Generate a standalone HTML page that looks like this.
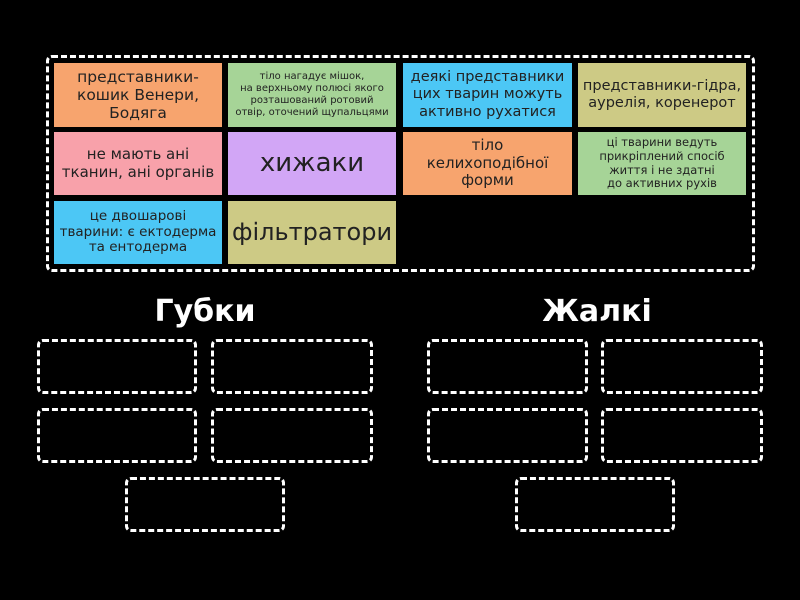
<!DOCTYPE html>
<html><head><meta charset="utf-8"><style>
body{margin:0;width:800px;height:600px;background:#000;position:relative;overflow:hidden;font-family:"DejaVu Sans","Liberation Sans",sans-serif;}
.t{position:absolute;display:flex;align-items:center;justify-content:center;text-align:center;color:#222;line-height:1.18;}
.d{position:absolute;border:3px dashed #fff;border-radius:6px;box-sizing:border-box;}
.h{position:absolute;color:#fff;font-weight:bold;font-size:30px;text-align:center;width:200px;}
</style></head><body>
<div class="d" style="left:46px;top:55px;width:709px;height:217px;"></div>
<div class="t" style="left:54px;top:63px;width:168px;height:64px;background:#F7A46E;font-size:15.5px;">представники-<br>кошик Венери,<br>Бодяга</div>
<div class="t" style="left:228px;top:63px;width:168px;height:64px;background:#A6D497;font-size:10px;">тіло нагадує мішок,<br>на верхньому полюсі якого<br>розташований ротовий<br>отвір, оточений щупальцями</div>
<div class="t" style="left:403px;top:63px;width:169px;height:64px;background:#4CC7F5;font-size:14.5px;">деякі представники<br>цих тварин можуть<br>активно рухатися</div>
<div class="t" style="left:578px;top:63px;width:168px;height:64px;background:#CDCA85;font-size:14.5px;">представники-гідра,<br>аурелія, коренерот</div>
<div class="t" style="left:54px;top:132px;width:168px;height:63px;background:#F8A1AA;font-size:15px;">не мають ані<br>тканин, ані органів</div>
<div class="t" style="left:228px;top:132px;width:168px;height:63px;background:#D2A6F6;font-size:26px;">хижаки</div>
<div class="t" style="left:403px;top:132px;width:169px;height:63px;background:#F7A46E;font-size:15px;">тіло<br>келихоподібної<br>форми</div>
<div class="t" style="left:578px;top:132px;width:168px;height:63px;background:#A6D497;font-size:11.5px;">ці тварини ведуть<br>прикріплений спосіб<br>життя і не здатні<br>до активних рухів</div>
<div class="t" style="left:54px;top:201px;width:168px;height:63px;background:#4CC7F5;font-size:13.5px;">це двошарові<br>тварини: є ектодерма<br>та ентодерма</div>
<div class="t" style="left:228px;top:201px;width:168px;height:63px;background:#CDCA85;font-size:24px;">фільтратори</div>
<div class="h" style="left:105px;top:294px;">Губки</div>
<div class="h" style="left:497px;top:294px;">Жалкі</div>
<div class="d" style="left:37px;top:339px;width:160px;height:55px;"></div>
<div class="d" style="left:211px;top:339px;width:162px;height:55px;"></div>
<div class="d" style="left:37px;top:408px;width:160px;height:55px;"></div>
<div class="d" style="left:211px;top:408px;width:162px;height:55px;"></div>
<div class="d" style="left:125px;top:477px;width:160px;height:55px;"></div>
<div class="d" style="left:427px;top:339px;width:161px;height:55px;"></div>
<div class="d" style="left:601px;top:339px;width:162px;height:55px;"></div>
<div class="d" style="left:427px;top:408px;width:161px;height:55px;"></div>
<div class="d" style="left:601px;top:408px;width:162px;height:55px;"></div>
<div class="d" style="left:515px;top:477px;width:160px;height:55px;"></div>
</body></html>
